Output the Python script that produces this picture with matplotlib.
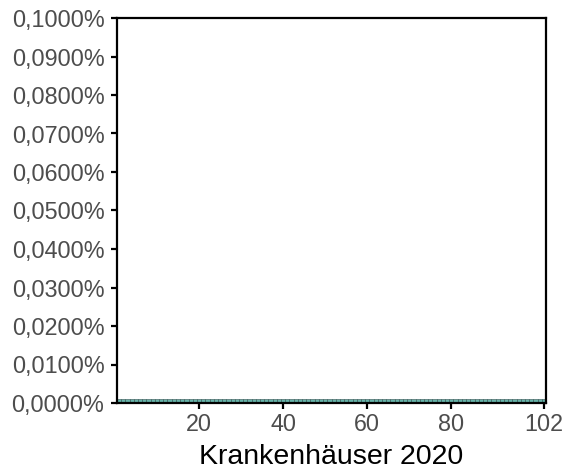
import matplotlib
matplotlib.use("Agg")
import matplotlib.pyplot as plt
from matplotlib.ticker import FuncFormatter, FixedLocator

# Share per hospital (in percent)
hospitals = list(range(1, 103))
share_pct = [0.001] * 102

y_ticks = [0.0, 0.01, 0.02, 0.03, 0.04, 0.05, 0.06, 0.07, 0.08, 0.09, 0.10]
x_ticks = [20, 40, 60, 80, 102]

plt.rcParams['font.family'] = ['Liberation Sans', 'DejaVu Sans']

fig = plt.figure(figsize=(5.68, 4.73), dpi=100)
ax = fig.add_axes([117 / 568, 70 / 473, (546 - 117) / 568, (403 - 18) / 473])

ax.bar(hospitals, share_pct, width=1.0, color="#66b2a8", edgecolor="#2f4f4f",
       linewidth=0.4)

ax.set_xlim(0.5, 102.5)
ax.set_ylim(0, 0.1)
ax.yaxis.set_major_locator(FixedLocator(y_ticks))
ax.xaxis.set_major_locator(FixedLocator(x_ticks))
ax.yaxis.set_major_formatter(FuncFormatter(lambda v, p: f"{v:.4f}%".replace(".", ",")))

for s in ax.spines.values():
    s.set_linewidth(1.6)
    s.set_color("black")

ax.tick_params(axis="both", length=4, width=1.6, color="black",
               labelsize=16.8, labelcolor="#4d4d4d")
ax.tick_params(axis="y", pad=5)
ax.tick_params(axis="x", pad=3)
ax.set_xlabel("Krankenhäuser 2020", fontsize=20.5, color="black", labelpad=6)

fig.savefig("out.png", dpi=100)
